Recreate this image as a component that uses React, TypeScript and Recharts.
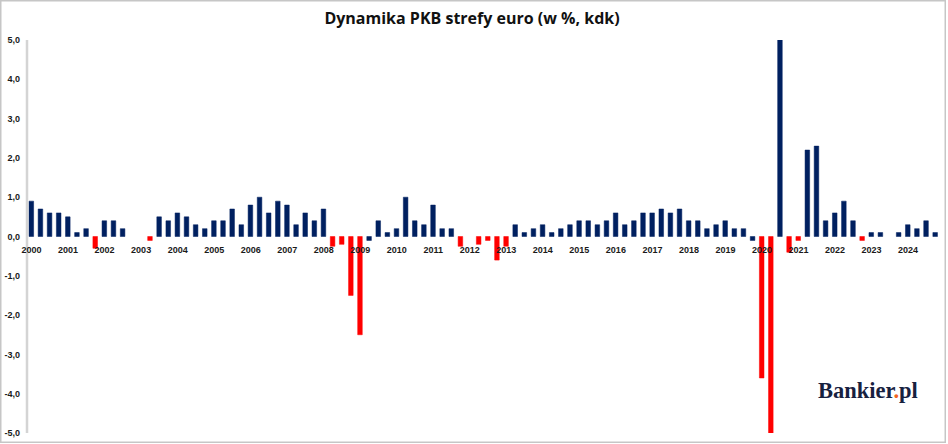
import React from 'react';
import { BarChart, Bar, XAxis, YAxis, CartesianGrid, Cell } from 'recharts';

// ---- data ----
const years = [
  2000, 2001, 2002, 2003, 2004, 2005, 2006, 2007, 2008, 2009, 2010, 2011, 2012,
  2013, 2014, 2015, 2016, 2017, 2018, 2019, 2020, 2021, 2022, 2023, 2024,
];
const quarterNames = ['Q1', 'Q2', 'Q3', 'Q4'];

// quarter-on-quarter GDP growth, euro area (%)
const gdpQoQ = [
  0.9, 0.7, 0.6, 0.6, // 2000
  0.5, 0.1, 0.2, -0.3, // 2001
  0.4, 0.4, 0.2, 0.0, // 2002
  0.0, -0.1, 0.5, 0.4, // 2003
  0.6, 0.5, 0.3, 0.2, // 2004
  0.4, 0.4, 0.7, 0.3, // 2005
  0.8, 1.0, 0.6, 0.9, // 2006
  0.8, 0.3, 0.6, 0.4, // 2007
  0.7, -0.25, -0.2, -1.5, // 2008
  -2.5, -0.1, 0.4, 0.1, // 2009
  0.2, 1.0, 0.4, 0.3, // 2010
  0.8, 0.2, 0.2, -0.25, // 2011
  0.0, -0.2, -0.1, -0.6, // 2012
  -0.25, 0.3, 0.1, 0.2, // 2013
  0.3, 0.1, 0.2, 0.3, // 2014
  0.4, 0.4, 0.3, 0.4, // 2015
  0.6, 0.3, 0.4, 0.6, // 2016
  0.6, 0.7, 0.6, 0.7, // 2017
  0.4, 0.4, 0.2, 0.3, // 2018
  0.4, 0.2, 0.2, -0.1, // 2019
  -3.6, -11.6, 12.6, -0.4, // 2020
  -0.1, 2.2, 2.3, 0.4, // 2021
  0.6, 0.9, 0.4, -0.1, // 2022
  0.1, 0.1, 0.0, 0.1, // 2023
  0.3, 0.2, 0.4, 0.1, // 2024
];

// quarters marked as declines (red) in the original
const declineQuarters = [
  '2001Q4', '2003Q2', '2008Q2', '2008Q3', '2008Q4', '2009Q1', '2011Q4',
  '2012Q2', '2012Q3', '2012Q4', '2013Q1', '2020Q1', '2020Q2', '2020Q4',
  '2021Q1', '2022Q4',
];

const yTicks = [5, 4, 3, 2, 1, 0, -1, -2, -3, -4, -5];
const yDomain: [number, number] = [-5, 5];

const titleText = 'Dynamika PKB strefy euro (w %, kdk)';

// ---- layout ----
const CHART_W = 948;
const CHART_H = 444;
const MARGIN = { top: 40, right: 8, bottom: 10, left: 0 };
const X_AXIS_H = 1;
const PLOT_H = CHART_H - MARGIN.top - MARGIN.bottom - X_AXIS_H;
const ZERO_SHIFT = (PLOT_H * (0 - yDomain[0])) / (yDomain[1] - yDomain[0]);

const NAVY = '#002060';
const RED = '#ff0000';
const FONT = '"Liberation Sans", Arial, sans-serif';

const data = years.flatMap((y, yi) =>
  quarterNames.map((q, qi) => ({
    quarter: `${y}${q}`,
    value: gdpQoQ[yi * 4 + qi],
  }))
);

const XTick = (props: any) => {
  const { x, y, payload } = props;
  const label = String(payload.value).slice(0, 4);
  return (
    <text
      x={x}
      y={y - ZERO_SHIFT + 16}
      textAnchor="middle"
      fontFamily={FONT}
      fontWeight="bold"
      fontSize={9}
      fill="#1a1a1a"
    >
      {label}
    </text>
  );
};

const fmtY = (v: number) => v.toFixed(1).replace('.', ',');

export default function App() {
  return (
    <div
      style={{
        position: 'absolute',
        left: 0,
        top: 0,
        width: CHART_W,
        height: CHART_H,
        background: '#ffffff',
      }}
    >
      <BarChart
        width={CHART_W}
        height={CHART_H}
        data={data}
        margin={MARGIN}
        barSize={4.6}
        style={{ fontFamily: FONT }}
      >
        <rect
          x={0.75}
          y={0.75}
          width={944.5}
          height={441.5}
          fill="#ffffff"
          stroke="#c6c6c6"
          strokeWidth={1.5}
        />
        <CartesianGrid vertical={false} stroke="#b8b8b8" />
        <XAxis
          dataKey="quarter"
          height={X_AXIS_H}
          interval={3}
          tick={(p: any) => <XTick {...p} />}
          tickLine={false}
          axisLine={false}
          tickSize={0}
          tickMargin={0}
        />
        <YAxis
          width={27}
          domain={yDomain}
          ticks={yTicks}
          interval={0}
          allowDataOverflow
          tickFormatter={fmtY}
          tickLine={false}
          tickSize={0}
          tickMargin={7}
          axisLine={{ stroke: '#d4d4d4', strokeWidth: 2.5 }}
          tick={{ fontSize: 9, fontWeight: 'bold', fill: '#1a1a1a', fontFamily: FONT }}
        />
        <Bar dataKey="value" isAnimationActive={false}>
          {data.map((d) => {
            const red = declineQuarters.includes(d.quarter);
            return (
              <Cell
                key={d.quarter}
                fill={red ? RED : NAVY}
                stroke={red ? RED : NAVY}
                strokeWidth={0.5}
              />
            );
          })}
        </Bar>
        <text
          x={472}
          y={24}
          textAnchor="middle"
          fontFamily='"Open Sans", sans-serif'
          fontWeight={700}
          fontSize={16}
          fill="#111111"
        >
          {titleText}
        </text>
        <g>
          <rect x={795} y={372} width={146} height={40} fill="#ffffff" />
          <text
            x={818}
            y={398}
            fontFamily='"Liberation Serif", "DejaVu Serif", serif'
            fontWeight="bold"
            fontSize={22.5}
            fill="#17213f"
          >
            Bankier<tspan fill="#f26522">.</tspan>pl
          </text>
        </g>
      </BarChart>
    </div>
  );
}
